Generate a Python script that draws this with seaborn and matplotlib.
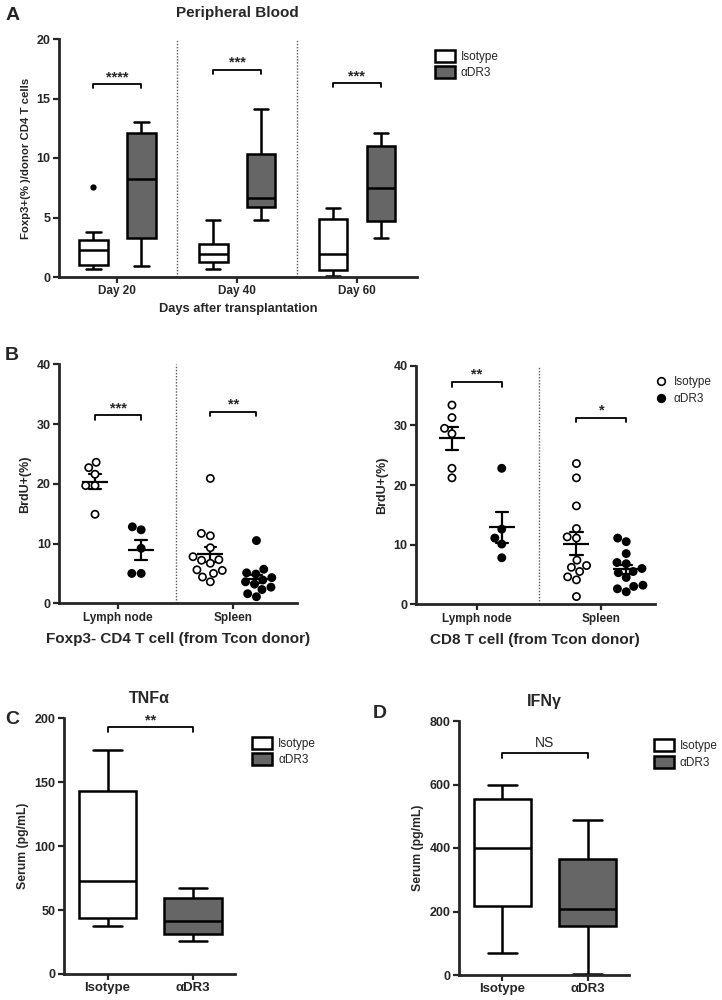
import pandas as pd
import matplotlib
matplotlib.use("Agg")
import matplotlib.pyplot as plt
from matplotlib.patches import Patch
from matplotlib.lines import Line2D
import seaborn as sns

# ---- values ----
groups = ["Isotype", "αDR3"]
days = ["Day 20", "Day 40", "Day 60"]
tissues = ["Lymph node", "Spleen"]

# A: Foxp3+ % (per day, min / Q1 / median / Q3 / max; day 20 isotype has one outlier)
blood_iso = [
    [0.7, 0.9, 1.0, 1.8, 2.3, 2.7, 3.1, 3.8, 7.6],
    [0.7, 1.3, 1.9, 2.8, 4.8],
    [0.05, 0.6, 1.9, 4.9, 5.8],
]
blood_dr3 = [
    [0.9, 3.3, 8.2, 12.1, 13.0],
    [4.8, 5.9, 6.6, 10.3, 14.1],
    [3.3, 4.7, 7.5, 11.0, 12.1],
]
blood_sig = ["****", "***", "***"]
blood_sig_y = [16.2, 17.4, 16.3]

# B: BrdU+ %
cd4_iso = [[23.6, 22.7, 21.6, 19.7, 19.7, 14.9],
           [20.9, 11.7, 11.3, 9.3, 7.8, 7.3, 7.2, 6.7, 5.6, 5.5, 5.0, 4.4, 3.6]]
cd4_dr3 = [[12.8, 12.3, 9.2, 5.0, 5.0],
           [10.5, 5.7, 5.1, 4.9, 4.3, 3.9, 3.6, 3.2, 2.7, 2.3, 1.6, 1.1]]
cd4_sig = ["***", "**"]
cd4_sig_y = [31.5, 32.1]

cd8_iso = [[33.4, 31.3, 29.5, 28.6, 22.8, 21.2],
           [23.6, 21.2, 16.5, 12.7, 11.3, 11.1, 7.4, 6.5, 6.2, 5.5, 4.6, 4.1, 1.3]]
cd8_dr3 = [[22.8, 12.6, 11.1, 10.1, 7.8],
           [11.1, 10.5, 8.5, 7.0, 6.8, 6.0, 5.5, 5.3, 4.5, 3.2, 3.0, 2.6, 2.1]]
cd8_sig = ["**", "*"]
cd8_sig_y = [37.3, 31.3]

# C / D: serum cytokines (pg/mL)
tnf_iso = [37.5, 44, 73, 143, 175]
tnf_dr3 = [26, 31, 41.5, 59.5, 67.5]
tnf_sig, tnf_sig_y = "**", 193

ifn_iso = [68, 218, 401, 553, 598]
ifn_dr3 = [2, 155, 208, 366, 488]
ifn_sig, ifn_sig_y = "NS", 698

box_colors = {"Isotype": "white", "αDR3": "#666666"}
dot_colors = {"Isotype": "white", "αDR3": "black"}


def long_df(cats, iso, dr3, cat_name):
    rows = []
    for c, a, b in zip(cats, iso, dr3):
        rows += [(c, "Isotype", v) for v in a]
        rows += [(c, "αDR3", v) for v in b]
    return pd.DataFrame(rows, columns=[cat_name, "group", "value"])


def bracket(ax, x1, x2, y, drop, text, bold=True, fs=10.5, lift=0.0):
    ax.plot([x1, x1, x2, x2], [y - drop, y, y, y - drop], color="black",
            lw=1.3, clip_on=False)
    ax.text((x1 + x2) / 2, y + lift, text, ha="center", va="bottom",
            fontsize=fs, fontweight="bold" if bold else "normal", clip_on=False)


def style_axes(ax, xsize=8.5):
    sns.despine(ax=ax)
    for s in ["left", "bottom"]:
        ax.spines[s].set_linewidth(2)
    ax.tick_params(axis="both", width=1.6, length=4, pad=2)
    ax.tick_params(axis="y", labelsize=9)
    ax.tick_params(axis="x", labelsize=xsize)


sns.set_style("ticks")
plt.rcParams["font.family"] = ["Liberation Sans", "DejaVu Sans"]
plt.rcParams["font.weight"] = "bold"
plt.rcParams["axes.labelweight"] = "bold"
plt.rcParams["axes.titleweight"] = "bold"

fig = plt.figure(figsize=(7.22, 10), dpi=100)

box_handles = [Patch(facecolor=box_colors[g], edgecolor="black", linewidth=1.8, label=g)
               for g in groups]

# ======================
# A - peripheral blood
# ======================
axA = fig.add_axes([0.0813, 0.723, 0.496, 0.238])
dfA = long_df(days, blood_iso, blood_dr3, "day")
sns.boxplot(data=dfA, x="day", y="value", hue="group", palette=box_colors,
            linecolor="black", linewidth=1.8, width=0.8, gap=0.4,
            flierprops={"marker": "o", "markerfacecolor": "black",
                        "markeredgecolor": "black", "markersize": 3.5},
            legend=False, ax=axA)
for xv in [0.5, 1.5]:
    axA.axvline(xv, color="0.35", ls=(0, (1, 1.2)), lw=1)
for i, (t, y) in enumerate(zip(blood_sig, blood_sig_y)):
    bracket(axA, i - 0.2, i + 0.2, y, 0.35, t)
axA.set_ylim(0, 20)
axA.set_yticks([0, 5, 10, 15, 20])
axA.set_xlim(-0.49, 2.5)
axA.set_xlabel("Days after transplantation", fontsize=9.3, labelpad=4)
axA.set_ylabel("Foxp3+(% )/donor CD4 T cells", fontsize=8.2)
axA.set_title("Peripheral Blood", fontsize=11, pad=16)
style_axes(axA)
axA.legend(handles=box_handles, loc="upper left", bbox_to_anchor=(1.02, 1.0),
           frameon=False, prop={"size": 8.5, "weight": "normal"},
           handlelength=1.7, handleheight=1.2, labelspacing=0.3, handletextpad=0.5)

# ======================
# B - BrdU scatter panels
# ======================
def brdu_panel(rect, iso, dr3, sig, sig_y, xlabel, xlim):
    ax = fig.add_axes(rect)
    df = long_df(tissues, iso, dr3, "tissue")
    sns.swarmplot(data=df, x="tissue", y="value", hue="group", palette=dot_colors,
                  dodge=True, size=5.2, edgecolor="black", linewidth=1.2,
                  legend=False, ax=ax)
    sns.pointplot(data=df, x="tissue", y="value", hue="group",
                  palette={"Isotype": "black", "αDR3": "black"},
                  errorbar="se", dodge=0.4, linestyle="none", marker="_",
                  markersize=19, markeredgewidth=1.6, capsize=0.1,
                  err_kws={"linewidth": 1.6}, legend=False, ax=ax)
    ax.axvline(0.5, color="0.35", ls=(0, (1, 1.2)), lw=1)
    for i, (t, y) in enumerate(zip(sig, sig_y)):
        bracket(ax, i - 0.2, i + 0.2, y, 0.8, t)
    ax.set_ylim(0, 40)
    ax.set_yticks([0, 10, 20, 30, 40])
    ax.set_xlim(*xlim)
    ax.set_xlabel(xlabel, fontsize=11, labelpad=6)
    ax.set_ylabel("BrdU+(%)", fontsize=9)
    style_axes(ax)
    return ax


axB1 = brdu_panel([0.0821, 0.3967, 0.329, 0.239], cd4_iso, cd4_dr3, cd4_sig, cd4_sig_y,
                  "Foxp3- CD4 T cell (from Tcon donor)", (-0.51, 1.55))
axB2 = brdu_panel([0.576, 0.3957, 0.331, 0.2386], cd8_iso, cd8_dr3, cd8_sig, cd8_sig_y,
                  "CD8 T cell (from Tcon donor)", (-0.49, 1.43))
dot_handles = [Line2D([], [], ls="none", marker="o", markersize=5.5,
                      markerfacecolor=dot_colors[g], markeredgecolor="black",
                      markeredgewidth=1.2, label=g) for g in groups]
axB2.legend(handles=dot_handles, loc="upper left", bbox_to_anchor=(0.955, 1.0),
            frameon=False, prop={"size": 8.5, "weight": "normal"},
            handlelength=1.0, labelspacing=0.4, handletextpad=0.6)

# ======================
# C / D - serum cytokines
# ======================
def serum_panel(rect, iso, dr3, sig, sig_y, title, ymax, yticks, bold_sig, leg_x):
    ax = fig.add_axes(rect)
    df = pd.DataFrame({"group": ["Isotype"] * len(iso) + ["αDR3"] * len(dr3),
                       "value": iso + dr3})
    sns.boxplot(data=df, x="group", y="value", hue="group", palette=box_colors,
                linecolor="black", linewidth=1.8, width=0.67, legend=False, ax=ax)
    bracket(ax, 0, 1, sig_y, ymax * 0.02, sig, bold=bold_sig,
            fs=10.5 if bold_sig else 10, lift=0 if bold_sig else ymax * 0.012)
    ax.set_ylim(0, ymax)
    ax.set_yticks(yticks)
    ax.set_xlim(-0.51, 1.49)
    ax.set_xlabel("")
    ax.set_ylabel("Serum (pg/mL)", fontsize=8.8)
    ax.set_title(title, fontsize=11.5, pad=11)
    style_axes(ax, xsize=9.5)
    ax.legend(handles=box_handles, loc="upper left", bbox_to_anchor=(leg_x, 0.97),
              frameon=False, prop={"size": 8.5, "weight": "normal"},
              handlelength=1.7, handleheight=1.2, labelspacing=0.3, handletextpad=0.5)
    return ax


axC = serum_panel([0.0886, 0.026, 0.2368, 0.2557], tnf_iso, tnf_dr3, tnf_sig, tnf_sig_y,
                  "TNFα", 200, [0, 50, 100, 150, 200], True, 1.04)
axD = serum_panel([0.6357, 0.025, 0.2359, 0.254], ifn_iso, ifn_dr3, ifn_sig, ifn_sig_y,
                  "IFNγ", 800, [0, 200, 400, 600, 800], False, 1.08)

# panel letters
for letter, x, y in [("A", 0.007, 0.985), ("B", 0.007, 0.645),
                     ("C", 0.007, 0.28), ("D", 0.516, 0.287)]:
    fig.text(x, y, letter, fontsize=14, fontweight="bold", va="center")

fig.savefig("out.png", dpi=100)
